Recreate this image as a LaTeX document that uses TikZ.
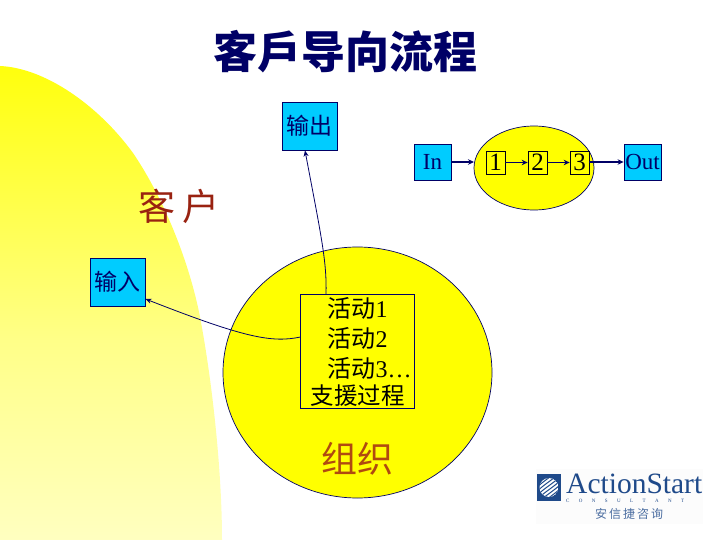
\documentclass[tikz,border=0pt]{standalone}
\usepackage{fontspec}
\setmainfont{Liberation Serif}
\newfontfamily\cjk{Noto Sans CJK SC}
\usetikzlibrary{arrows.meta,shapes.geometric}
\definecolor{navyink}{HTML}{000066}
\definecolor{boxblue}{HTML}{00CCFF}
\definecolor{brickred}{HTML}{992211}
\definecolor{orgred}{HTML}{B04A10}
\definecolor{logoblue}{HTML}{1F4A8A}
\definecolor{pureyellow}{HTML}{FFFF00}
\definecolor{paleyellow}{HTML}{FFFFF4}
\definecolor{midyellow}{HTML}{FFFF88}
\definecolor{softyellow}{HTML}{FFFFD0}
\pgfdeclareverticalshading{fadeyellow}{100bp}{color(0bp)=(paleyellow); color(19bp)=(softyellow); color(46bp)=(midyellow); color(78bp)=(pureyellow); color(100bp)=(pureyellow)}
\tikzset{
  blue box/.style={draw=navyink,fill=boxblue,line width=0.8pt,inner sep=0pt,text=navyink},
  step box/.style={draw=black!80!navyink,line width=0.7pt,inner sep=0pt,minimum width=19pt,minimum height=23pt,font=\fontsize{25}{25}\selectfont,text=black},
  yellow blob/.style={draw=navyink,fill=pureyellow,line width=0.7pt,ellipse},
  link/.style={draw=navyink,line width=0.8pt,-{Stealth[length=6pt,width=5pt]}},
  mid link/.style={draw=navyink,line width=1pt,-{Stealth[length=6pt,width=5.5pt]}},
  thick link/.style={draw=navyink,line width=1.6pt,-{Stealth[length=6pt,width=5.5pt]}}
}
\begin{document}
\begin{tikzpicture}[x=1pt,y=-1pt]
\useasboundingbox (0,0) rectangle (720,540);
\fill[white] (0,0) rectangle (720,540);
% customer background
\path[shading=fadeyellow] (0,66) .. controls (45,68) and (98,105) .. (133,153)
  .. controls (165,200) and (190,265) .. (200,317)
  .. controls (212,380) and (222,470) .. (222,540) -- (0,540) -- cycle;
% title
\node[font=\cjk\bfseries\fontsize{44}{44}\selectfont,text=navyink] (title) at (345,52) {客戶导向流程};
\node[font=\cjk\fontsize{37}{37}\selectfont,text=brickred] (client) at (179,206) {客\,户};
% organisation
\node[yellow blob,minimum width=269pt,minimum height=251pt,inner sep=0pt] (org) at (357.5,372.5) {};
\node[font=\cjk\fontsize{36}{36}\selectfont,text=orgred] (orglabel) at (357,459) {组织};
\node[draw=navyink,line width=0.7pt,minimum width=114pt,minimum height=114pt,inner sep=0pt] (act) at (357.5,351) {};
\node[anchor=west,font=\fontsize{24}{24}\selectfont] (a1) at (324,308.5) {{\cjk 活动}1};
\node[anchor=west,font=\fontsize{24}{24}\selectfont] (a2) at (324,338) {{\cjk 活动}2};
\node[anchor=west,font=\fontsize{24}{24}\selectfont] (a3) at (324,368) {{\cjk 活动}3…};
\node[font=\cjk\fontsize{23.5}{24}\selectfont,inner sep=0pt] (a4) at (357.5,396) {支援过程};
% boxes
\node[blue box,minimum width=55pt,minimum height=48pt,font=\cjk\fontsize{23}{23}\selectfont] (out) at (309.5,126) {输出};
\node[blue box,minimum width=55pt,minimum height=48pt,font=\cjk\fontsize{23}{23}\selectfont] (inp) at (117.5,282) {输入};
% connectors
\coordinate (atop) at (326,294);
\coordinate (aleft) at (300.5,337);
\coordinate (outfoot) at (305,150.5);
\coordinate (inpfoot) at (145.5,299);
\draw[link] (atop) .. controls (327,262) and (321,235) .. (outfoot);
\draw[link] (aleft) .. controls (272,343) and (245,338) .. (inpfoot);
% small process
\node[blue box,minimum width=37pt,minimum height=36pt,font=\fontsize{23}{23}\selectfont] (pin) at (432.5,162) {In};
\node[blue box,minimum width=37pt,minimum height=36pt,font=\fontsize{23}{23}\selectfont] (pout) at (642.5,162) {Out};
\node[yellow blob,minimum width=120pt,minimum height=84pt,inner sep=0pt] (proc) at (534,168) {};
\node[step box] (s1) at (495.5,162.5) {1};
\node[step box] (s2) at (537.5,162.5) {2};
\node[step box] (s3) at (579.5,162.5) {3};
\coordinate (procleft) at (474,162);
\draw[thick link] (pin.east) -- (procleft);
\draw[mid link] (s1) -- (s2);
\draw[mid link] (s2) -- (s3);
\draw[thick link] (s3.east |- proc.east) ++(0,-6) -- (pout.west);
% logo
\fill[black!1] (536,469) rectangle (703,524);
\fill[logoblue] (537,474) rectangle (561,501);
\begin{scope}
\clip (549,487.5) circle (9.5);
\fill[white] (549,487.5) circle (9.5);
\foreach \d in {-12,-8,-4,0,4,8,12}{
  \draw[logoblue,line width=1pt] (539,487.5+\d+6) .. controls (545,486+\d+2) and (552,484+\d) .. (560,477+\d);
}
\end{scope}
\node[anchor=base west,inner sep=0pt,font=\fontsize{29.5}{30}\selectfont,text=logoblue] (brand) at (566,493) {ActionStart};
\node[anchor=base west,inner sep=0pt,font=\fontsize{5}{5}\selectfont,text=logoblue] (consult) at (566,502.5) {C\hspace{9.4pt}O\hspace{9.4pt}N\hspace{9.4pt}S\hspace{9.4pt}U\hspace{9.4pt}L\hspace{9.4pt}T\hspace{9.4pt}A\hspace{9.4pt}N\hspace{9.4pt}T};
\node[inner sep=0pt,font=\cjk\fontsize{12}{12}\selectfont,text=logoblue!80] (cn) at (629,513.5) {安\,信\,捷\,咨\,询};
\end{tikzpicture}
\end{document}
